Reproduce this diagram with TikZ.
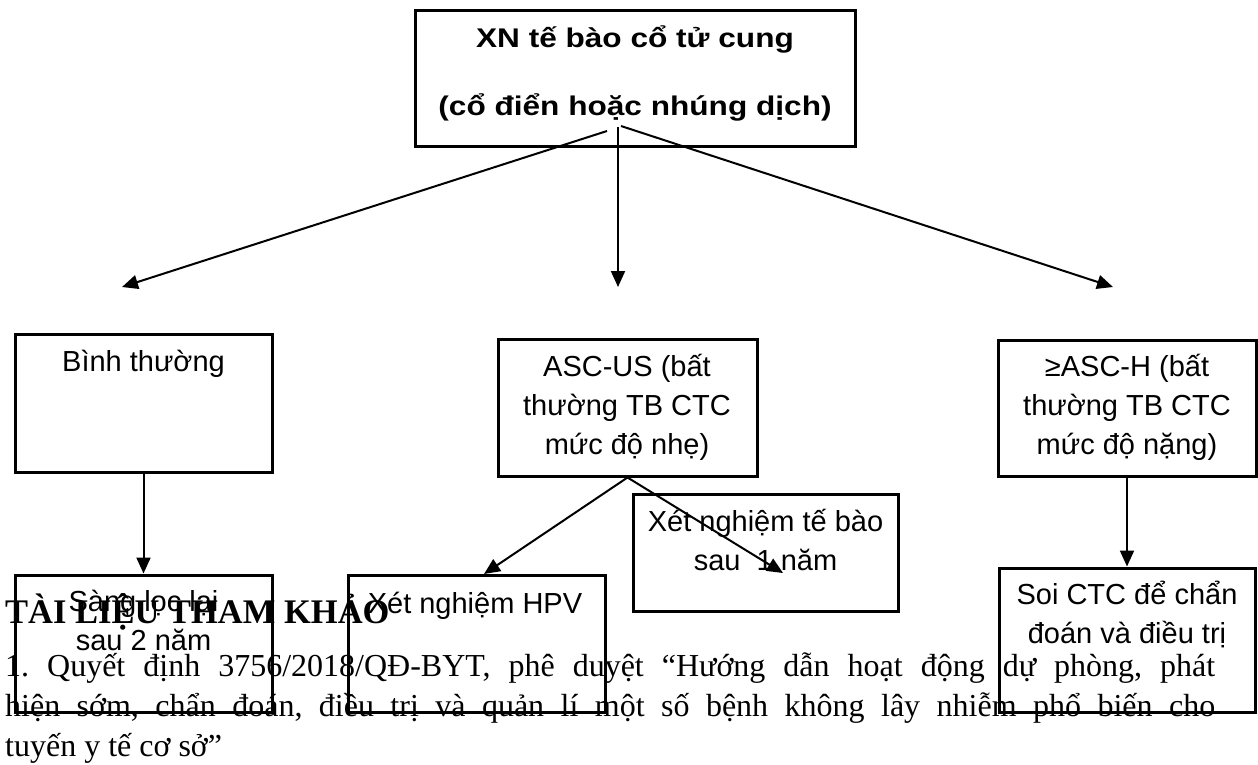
\documentclass[tikz,border=0pt]{standalone}
\usepackage{fontspec}
\setmainfont{Liberation Serif}
\newfontfamily\arialfont{Liberation Sans}
\newfontfamily\headfont[FakeStretch=1.17]{Liberation Sans}
\usetikzlibrary{arrows.meta}
\frenchspacing

\begin{document}
\begin{tikzpicture}[x=1pt,y=-1pt,
	box/.style={draw, line width=3pt, inner sep=0pt},
	boxtext/.style={font=\arialfont\fontsize{29}{39}\selectfont, align=center, anchor=base, inner sep=0pt},
	link/.style={line width=2pt, -{Triangle[length=16pt,width=14pt]}}]
		\useasboundingbox (0,0) rectangle (1258,764);

			% reference text under the chart
			\node[anchor=base west, inner sep=0pt, font=\bfseries\fontsize{34.5}{40}\selectfont] (title) at (5,623) {TÀI LIỆU THAM KHẢO};
			\node[anchor=base west, inner sep=0pt, text width=1210pt, align=justify, font=\fontsize{32}{40}\selectfont] (ref) at (5,676)
				{1. Quyết định 3756/2018/QĐ-BYT, phê duyệt “Hướng dẫn hoạt động dự phòng, phát\linebreak hiện sớm, chẩn đoán, điều trị và quản lí một số bệnh không lây nhiễm phổ biến cho\linebreak tuyến y tế cơ sở”};

			\node[box, minimum width=440, minimum height=136] (top) at (635,78) {};
			\node[box, minimum width=257, minimum height=138] (norm) at (143.5,403) {};
			\node[box, minimum width=259, minimum height=137] (ascus) at (627.5,407.5) {};
			\node[box, minimum width=258, minimum height=136] (asch) at (1127,408) {};
			\node[box, minimum width=257, minimum height=137] (rescreen) at (143.5,643.5) {};
			\node[box, minimum width=257, minimum height=137] (hpv) at (476.5,643.5) {};
			\node[box, minimum width=265, minimum height=117] (cyto) at (765.5,552.5) {};
			\node[box, minimum width=256, minimum height=144] (colpo) at (1127,640) {};

			% anchor=base sits on the last line
			\node[boxtext, font=\headfont\bfseries\fontsize{27}{68}\selectfont] (toptext) at (635,115) {XN tế bào cổ tử cung\\(cổ điển hoặc nhúng dịch)};
			\node[boxtext] (normtext) at (143.5,371) {Bình thường};
			\node[boxtext] (ascustext) at (627,454) {ASC-US (bất\\thường TB CTC\\mức độ nhẹ)};
			\node[boxtext] (aschtext) at (1127,454) {≥ASC-H (bất\\thường TB CTC\\mức độ nặng)};
			\node[boxtext] (rescreentext) at (143.5,650) {Sàng lọc lại\\sau 2 năm};
			\node[boxtext] (hpvtext) at (475,613) {Xét nghiệm HPV};
			\node[boxtext] (cytotext) at (765.5,570) {Xét nghiệm tế bào\\sau \ 1 năm};
			\node[boxtext] (colpotext) at (1127,643) {Soi CTC để chẩn\\đoán và điều trị};

			\coordinate (srcL) at (607,131);
			\coordinate (srcM) at (618,127);
			\coordinate (srcR) at (621,126);
			\coordinate (endL) at (122,287);
			\coordinate (endM) at (618,287);
			\coordinate (endR) at (1113,287);
			\coordinate (endHPV) at (484,574);
			\coordinate (endCyto) at (783,573);

			\draw[link] (srcL) -- (endL);
			\draw[link] (srcM) -- (endM);
			\draw[link] (srcR) -- (endR);
			\draw[link] (norm.south) -- (rescreen.north);
			\draw[link] (ascus.south) -- (endHPV);
			\draw[link] (ascus.south) -- (endCyto);
			\draw[link] (asch.south) -- (colpo.north);
		\end{tikzpicture}
\end{document}
